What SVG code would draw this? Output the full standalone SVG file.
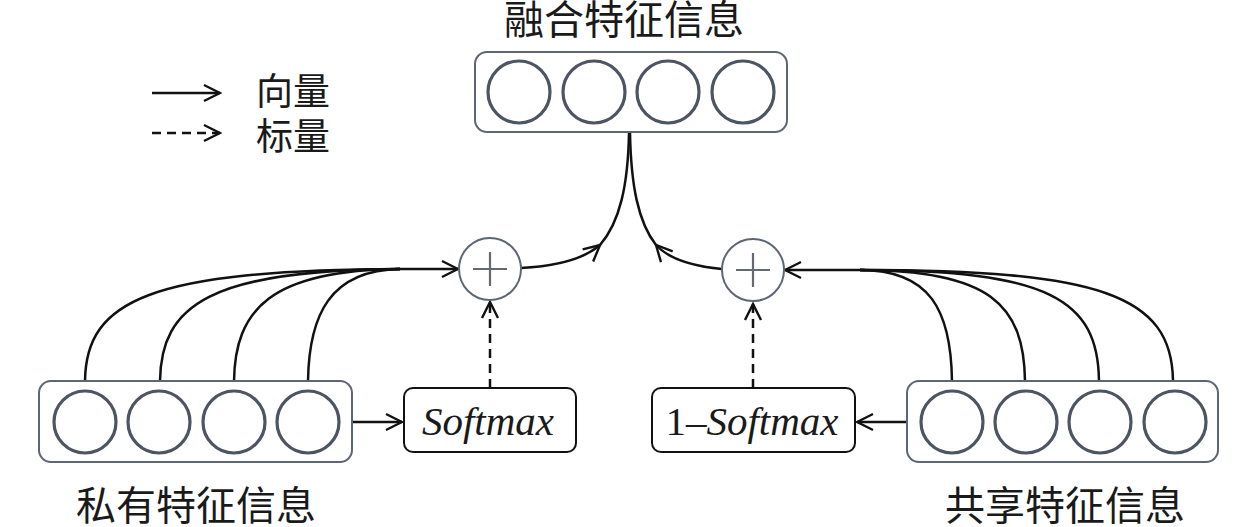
<svg xmlns="http://www.w3.org/2000/svg" width="1259" height="527" viewBox="0 0 1259 527">
<defs>
<marker id="arr" viewBox="0 0 20 20" refX="18" refY="10" markerWidth="20" markerHeight="20" markerUnits="userSpaceOnUse" orient="auto">
<path d="M2,2 L18,10 L2,18" fill="none" stroke="#111" stroke-width="2.4"/>
</marker>
</defs>
<style>
.box{fill:#fff;stroke:#5f6673;stroke-width:2;}
.unit{fill:#fff;stroke:#4d5563;stroke-width:3.2;}
.plus{fill:#fff;stroke:#5f6673;stroke-width:2;}
.psign{stroke:#666a70;stroke-width:2.2;}
.fbox{fill:#fff;stroke:#111;stroke-width:2;}
.con{fill:none;stroke:#111;stroke-width:2.5;}
.dash{fill:none;stroke:#111;stroke-width:2.5;stroke-dasharray:9,6;}
.cjk{font-family:"Liberation Serif","Noto Sans CJK SC",serif;font-size:40px;fill:#1a1a1a;}
.leg{font-family:"Liberation Serif","Noto Sans CJK SC",serif;font-size:37px;fill:#1a1a1a;}
.lat{font-family:"Liberation Serif",serif;font-size:41px;fill:#1a1a1a;}
</style>
<rect width="1259" height="527" fill="#fff"/>

<g id="legend">
<line class="con" x1="152" y1="93" x2="220" y2="93" marker-end="url(#arr)"/>
<line class="dash" x1="152" y1="133" x2="220" y2="133" marker-end="url(#arr)"/>
<text class="leg" x="256" y="105">向量</text>
<text class="leg" x="256" y="150">标量</text>
</g>

<g id="connectors">
<!-- left inputs -->
<path class="con" d="M85,381 C86,300 150,270 400,269"/>
<path class="con" d="M160,381 C161,305 210,270 400,269"/>
<path class="con" d="M234,381 C235,310 270,270 400,269"/>
<path class="con" d="M308,381 C309,315 330,270 400,269"/>
<line class="con" x1="395" y1="269" x2="458" y2="269" marker-end="url(#arr)"/>
<!-- right inputs -->
<path class="con" d="M952,381 C951,310 930,270 860,270"/>
<path class="con" d="M1025,381 C1024,305 990,270 860,270"/>
<path class="con" d="M1099,381 C1098,300 1050,270 860,270"/>
<path class="con" d="M1173,381 C1172,295 1100,270 860,270"/>
<line class="con" x1="865" y1="270" x2="785" y2="270" marker-end="url(#arr)"/>
<!-- box to softmax -->
<line class="con" x1="352" y1="422" x2="402" y2="422" marker-end="url(#arr)"/>
<line class="con" x1="907" y1="422" x2="857" y2="422" marker-end="url(#arr)"/>
<!-- dashed up -->
<line class="dash" x1="490" y1="388" x2="490" y2="302" marker-end="url(#arr)"/>
<line class="dash" x1="753" y1="388" x2="753" y2="304" marker-end="url(#arr)"/>
<!-- to fused -->
<path class="con" d="M521,268 C560,266 585,258 600,245" marker-end="url(#arr)"/>
<path class="con" d="M600,245 C620,222 628,185 629,133"/>
<path class="con" d="M722,269 C690,266 668,258 656,245" marker-end="url(#arr)"/>
<path class="con" d="M656,245 C638,222 631,185 630,133"/>
</g>

<g id="fused">
<rect class="box" x="475" y="52" width="312" height="80" rx="12"/>
<circle class="unit" cx="519" cy="92" r="31"/>
<circle class="unit" cx="594" cy="92" r="31"/>
<circle class="unit" cx="668" cy="92" r="31"/>
<circle class="unit" cx="743" cy="92" r="31"/>
<text class="cjk" x="624" y="34" text-anchor="middle">融合特征信息</text>
</g>

<g id="private">
<rect class="box" x="39" y="381" width="313" height="81" rx="12"/>
<circle class="unit" cx="85" cy="422" r="31"/>
<circle class="unit" cx="159" cy="422" r="31"/>
<circle class="unit" cx="234" cy="422" r="31"/>
<circle class="unit" cx="308" cy="422" r="31"/>
<text class="cjk" x="196" y="520" text-anchor="middle">私有特征信息</text>
</g>

<g id="shared">
<rect class="box" x="907" y="381" width="311" height="81" rx="12"/>
<circle class="unit" cx="952" cy="422" r="31"/>
<circle class="unit" cx="1026" cy="422" r="31"/>
<circle class="unit" cx="1100" cy="422" r="31"/>
<circle class="unit" cx="1175" cy="422" r="31"/>
<text class="cjk" x="1065" y="520" text-anchor="middle">共享特征信息</text>
</g>

<g id="plus-left">
<circle class="plus" cx="490" cy="269" r="31"/>
<line class="psign" x1="473" y1="269" x2="507" y2="269"/>
<line class="psign" x1="490" y1="252" x2="490" y2="286"/>
</g>

<g id="plus-right">
<circle class="plus" cx="753" cy="270" r="31"/>
<line class="psign" x1="736" y1="270" x2="770" y2="270"/>
<line class="psign" x1="753" y1="253" x2="753" y2="287"/>
</g>

<g id="softmax">
<rect class="fbox" x="404" y="388" width="172" height="64" rx="9"/>
<text class="lat" x="488" y="435" text-anchor="middle" font-style="italic">Softmax</text>
</g>

<g id="one-minus-softmax">
<rect class="fbox" x="652" y="388" width="203" height="64" rx="9"/>
<text class="lat" x="752" y="435" text-anchor="middle">1–<tspan font-style="italic">Softmax</tspan></text>
</g>
</svg>
